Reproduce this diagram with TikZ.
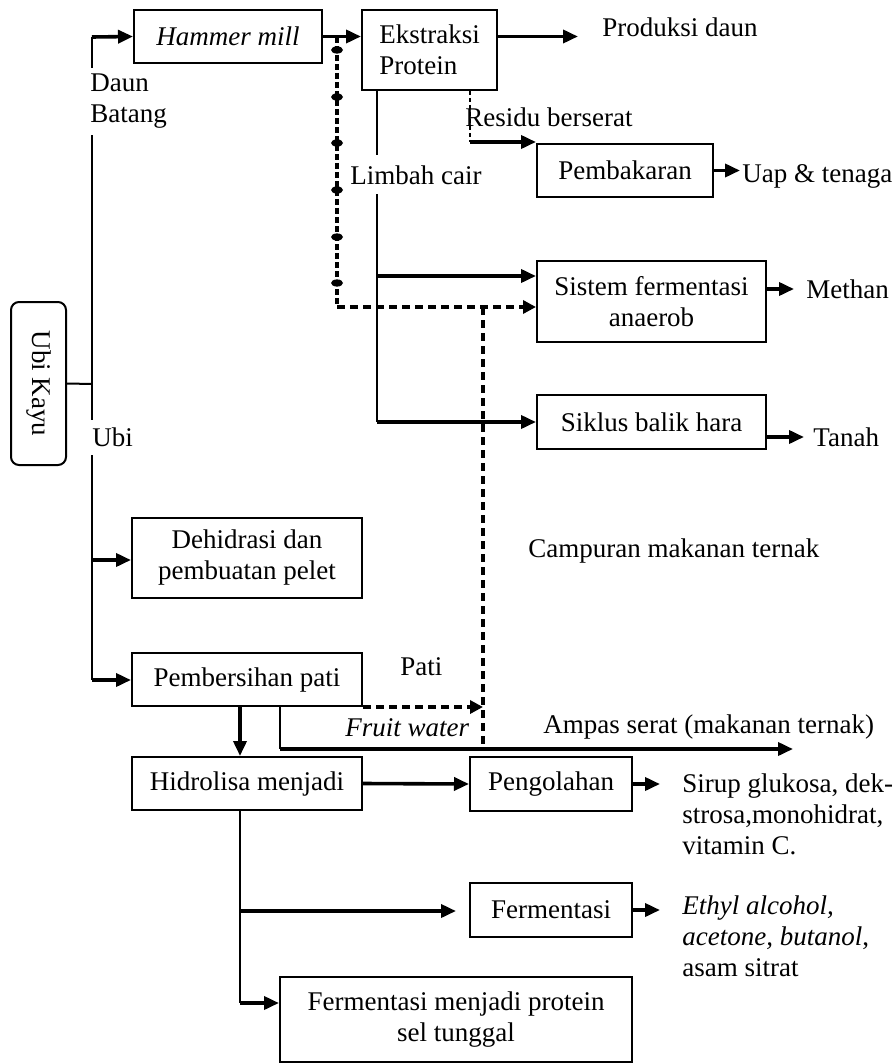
\documentclass[tikz,border=0pt]{standalone}
\usepackage{fontspec}
\setmainfont{Liberation Serif}
\usetikzlibrary{arrows.meta}

\begin{document}
\begin{tikzpicture}[x=0.5pt,y=-0.5pt,font=\fontsize{13.5pt}{15.5pt}\selectfont]
\tikzstyle{box}=[draw,line width=1pt,inner sep=2pt,align=center]
\tikzstyle{lbl}=[inner sep=0pt,anchor=west,align=left]
\tikzstyle{cover}=[anchor=west,align=left,fill=white,inner xsep=2pt]
\tikzstyle{pipe}=[line width=1pt]
\tikzstyle{arr}=[line width=1.8pt,-{Triangle[length=7.5pt,width=6.5pt]}]
\tikzstyle{dashline}=[line width=1.7pt,dash pattern=on 4pt off 2.5pt]
\tikzstyle{dasharr}=[dashline,-{Triangle[length=6.5pt,width=6.5pt]}]
\tikzstyle{limbah}=[line width=1.7pt,dash pattern=on 3pt off 1.5pt]

\useasboundingbox (0,0) rectangle (895,1064);

\path (38.5,383.5) node[box,rounded corners=4pt,rotate=-90,minimum width=81.5pt,minimum height=27.5pt](ubi){Ubi Kayu}
 (228,36.5) node[box,minimum width=94pt,minimum height=26.5pt](hammer){\textit{Hammer mill}}
 (429.5,50) node[box,minimum width=67.5pt,minimum height=40pt,align=left](ekstraksi){Ekstraksi\\Protein}
 (625,170.5) node[box,minimum width=88pt,minimum height=26.5pt](bakar){Pembakaran}
 (651.5,301.5) node[box,minimum width=114.5pt,minimum height=40.5pt](anaerob){Sistem fermentasi\\anaerob}
 (651.5,422) node[box,minimum width=114.5pt,minimum height=27pt](siklus){Siklus balik hara}
 (247,558) node[box,minimum width=115pt,minimum height=40pt](dehidrasi){Dehidrasi dan\\pembuatan pelet}
 (247,679.5) node[box,minimum width=115pt,minimum height=26.5pt](bersih){Pembersihan pati}
 (247,783.5) node[box,minimum width=115pt,minimum height=26.5pt](hidrolisa){Hidrolisa menjadi}
 (551,784) node[box,minimum width=81pt,minimum height=27pt](olah){Pengolahan}
 (551,910) node[box,minimum width=81pt,minimum height=27pt](ferm){Fermentasi}
 (456,1019.5) node[box,minimum width=176pt,minimum height=42.5pt](protein){Fermentasi menjadi protein\\sel tunggal};

\path (602,27) node[lbl](produksi){Produksi daun}
 (465,117) node[lbl](residu){Residu berserat}
 (742,176) node[lbl](uap){Uap \& tenaga}
 (806,289) node[lbl](methan){Methan}
 (813,437) node[lbl](tanah){Tanah}
 (528,551) node[lbl](campuran){Campuran makanan ternak}
 (400,667) node[lbl](pati){Pati}
 (345,728) node[lbl](fruit){\textit{Fruit water}}
 (543,727) node[lbl](ampas){Ampas serat (makanan ternak)}
 (682,814) node[lbl](sirup){Sirup glukosa, dek-\\strosa,monohidrat,\\vitamin C.}
 (682,936) node[lbl](ethyl){\textit{Ethyl alcohol,}\\\textit{acetone, butanol},\\asam sitrat};

\coordinate (t0) at (92,37);
\coordinate (t1) at (92,384);
\coordinate (t2) at (92,560);
\coordinate (t3) at (92,680);
\coordinate (l1) at (337,37);
\coordinate (l2) at (337,307);
\coordinate (v1) at (377,422);
\coordinate (v2) at (377,276);
\coordinate (r1) at (470,142);
\coordinate (d1) at (483,307);
\coordinate (d2) at (483,745);
\coordinate (h1) at (240,1003);
\coordinate (h2) at (240,911);
\coordinate (a1) at (280,749);
\coordinate (a2) at (793,749);

\draw[pipe] (t0) -- (t3);
\draw[pipe] (ubi.north) -- (t1);
\draw[arr] (t0) -- (hammer.west);
\draw[arr] (t2) -- (t2 -| dehidrasi.west);
\draw[arr] (t3) -- (t3 -| bersih.west);
\draw[arr] (hammer.east) -- (hammer.east -| ekstraksi.west);
\draw[arr] (hammer.east -| ekstraksi.east) -- ([xshift=-12pt]produksi.west |- hammer.east);

\draw[pipe] (ekstraksi.south -| v1) -- (v1);
\draw[arr] (v2) -- (v2 -| anaerob.west);
\draw[arr] (v1) -- (siklus.west);
\draw[pipe,dash pattern=on 2pt off 1.5pt] (ekstraksi.south -| r1) -- (r1);
\draw[arr] (r1) -- (r1 -| bakar.west);
\draw[arr] (bakar.east) -- ([xshift=-1pt]uap.west |- bakar.east);
\draw[arr] (anaerob.east |- methan) -- ([xshift=-6pt]methan.west);
\draw[arr] (siklus.east |- tanah) -- ([xshift=-4.5pt]tanah.west);

\draw[limbah] (l1) -- (l2);
\foreach \y in {50,97,143,190,237,283}
  \fill (337,\y) ellipse [x radius=3pt,y radius=1.8pt];
\draw[dasharr] (l2) -- (l2 -| anaerob.west);
\draw[dashline] (d1) -- (d2);

\draw[arr] (bersih.south -| h1) -- (hidrolisa.north -| h1);
\draw[pipe] (bersih.south -| a1) -- (a1);
\draw[arr] (a1) -- (a2);
\draw[dasharr] (bersih.south east) -- (bersih.south east -| d1);
\draw[arr] (hidrolisa.east) -- (olah.west);
\draw[arr] (olah.east) -- ([xshift=-11pt]sirup.west |- olah.east);
\draw[pipe] (hidrolisa.south -| h1) -- (h1);
\draw[arr] (h2) -- ([xshift=-6.5pt]ferm.west |- h2);
\draw[arr] (ferm.east) -- ([xshift=-11pt]ethyl.west |- ferm.east);
\draw[arr] (h1) -- (h1 -| protein.west);

\path (86,101.5) node[cover,inner ysep=3pt](daun){Daun\\Batang}
 (88,437) node[cover,inner ysep=4pt](ubilbl){Ubi}
 (346,175) node[cover,inner ysep=5pt](limbahlbl){Limbah cair};
\end{tikzpicture}
\end{document}
